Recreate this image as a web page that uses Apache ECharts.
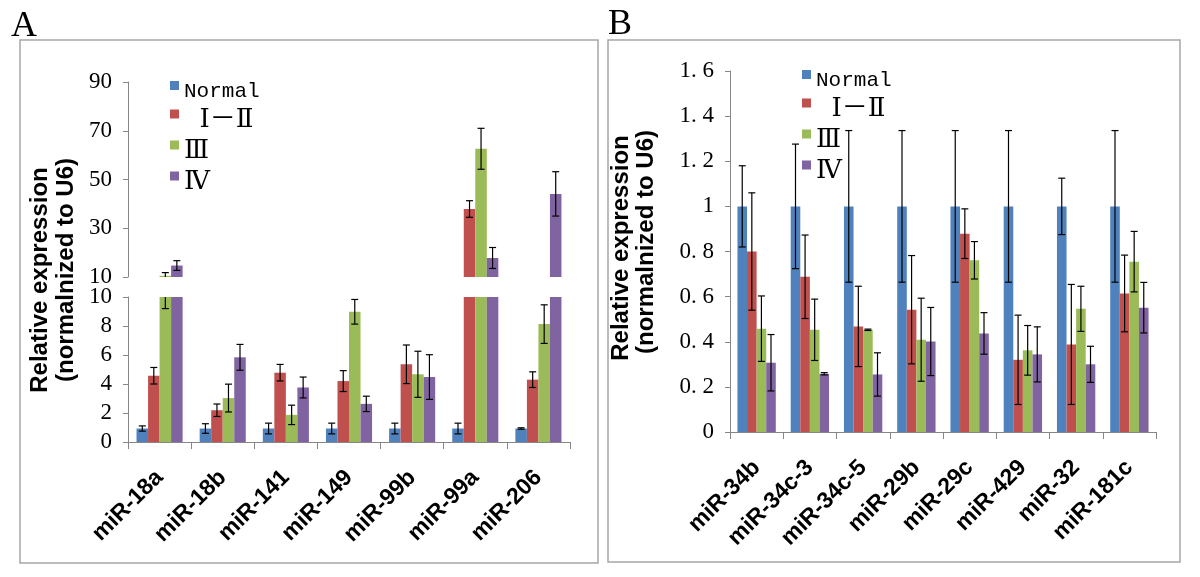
<!DOCTYPE html>
<html><head><meta charset="utf-8">
<script src="https://cdn.jsdelivr.net/npm/echarts@6/dist/echarts.min.js"></script>
<style>html,body{margin:0;padding:0;background:#fff}#c{width:1200px;height:577px}</style>
</head><body><div id="c"></div>
<script>
// ---------- data ----------
const seriesNames = ['Normal', ' Ⅰ－Ⅱ', 'Ⅲ', 'Ⅳ'];
const colors = ['#4F81BD', '#C0504D', '#9BBB59', '#8064A2'];

const catsA = ['miR-18a', 'miR-18b', 'miR-141', 'miR-149', 'miR-99b', 'miR-99a', 'miR-206'];
const normalA     = [0.93, 0.93, 0.93, 0.93, 0.93, 0.93, 0.93];
const normalAErr  = [0.18, 0.33, 0.37, 0.37, 0.37, 0.37, 0.05];
const stage12A    = [4.57, 2.19, 4.78, 4.2, 5.36, 37.9, 4.3];
const stage12AErr = [0.57, 0.43, 0.57, 0.72, 1.33, 3.4, 0.54];
const stage3A     = [10.5, 3.03, 1.87, 8.98, 4.67, 62.6, 8.13];
const stage3AErr  = [1.3, 0.96, 0.67, 0.85, 1.59, 8.4, 1.33];
const stage4A     = [14.7, 5.84, 3.76, 2.63, 4.48, 17.8, 44.1];
const stage4AErr  = [2.0, 0.89, 0.72, 0.53, 1.54, 4.3, 9.1];

const catsB = ['miR-34b', 'miR-34c-3', 'miR-34c-5', 'miR-29b', 'miR-29c', 'miR-429', 'miR-32', 'miR-181c'];
const normalB     = [1, 1, 1, 1, 1, 1, 1, 1];
const normalBErr  = [0.18, 0.276, 0.336, 0.336, 0.336, 0.336, 0.125, 0.336];
const stage12B    = [0.8, 0.688, 0.468, 0.542, 0.879, 0.32, 0.388, 0.614];
const stage12BErr = [0.26, 0.185, 0.178, 0.24, 0.11, 0.198, 0.266, 0.17];
const stage3B     = [0.458, 0.453, 0.453, 0.409, 0.761, 0.362, 0.546, 0.755];
const stage3BErr  = [0.145, 0.136, 0.003, 0.184, 0.083, 0.11, 0.1, 0.134];
const stage4B     = [0.307, 0.258, 0.255, 0.401, 0.437, 0.344, 0.3, 0.551];
const stage4BErr  = [0.125, 0.005, 0.096, 0.151, 0.092, 0.122, 0.08, 0.112];

const breakValue = 10;

// ---------- helpers ----------
const valsA = [normalA, stage12A, stage3A, stage4A];
const errsA = [normalAErr, stage12AErr, stage3AErr, stage4AErr];
const valsB = [normalB, stage12B, stage3B, stage4B];
const errsB = [normalBErr, stage12BErr, stage3BErr, stage4BErr];
const gapA = 0.27, gapB = 0.28;

const axisGrey = '#868686';
const tickFont = {fontFamily: "'Liberation Serif', serif", fontSize: 23, color: '#000'};
const xLabelFont = {fontFamily: "'Liberation Sans', Arial, sans-serif", fontWeight: 'bold', fontSize: 23, color: '#000'};

function errSeries(axisIdx, sIdx, vals, errs, gap, keep) {
  return {
    type: 'custom', name: 'err' + axisIdx + '_' + sIdx,
    xAxisIndex: axisIdx, yAxisIndex: axisIdx, z: 5, silent: true,
    data: vals.map((v, i) => [i, v, errs[i]]).filter(d => keep(d[1])),
    renderItem(params, api) {
      const i = api.value(0), v = api.value(1), e = api.value(2);
      const band = api.size([1, 0])[0];
      const bw = band * (1 - gap) / 4;
      const cx = api.coord([i, v])[0] + (sIdx - 1.5) * bw;
      const cs = params.coordSys;
      const top = cs.y, bot = cs.y + cs.height;
      const yTop = api.coord([i, v + e])[1];
      const yBot = api.coord([i, v - e])[1];
      const y1 = Math.max(yTop, top), y2 = Math.min(yBot, bot);
      if (y1 >= y2) return null;
      const st = {stroke: '#000', lineWidth: 1.2};
      const cap = 3.5;
      const ch = [{type: 'line', shape: {x1: cx, y1: y1, x2: cx, y2: y2}, style: st}];
      if (yTop >= top - 0.5) ch.push({type: 'line', shape: {x1: cx - cap, y1: yTop, x2: cx + cap, y2: yTop}, style: st});
      if (yBot <= bot + 0.5) ch.push({type: 'line', shape: {x1: cx - cap, y1: yBot, x2: cx + cap, y2: yBot}, style: st});
      return {type: 'group', children: ch};
    }
  };
}

function yAxisCfg(grid, min, max, interval, fmt) {
  return {
    type: 'value', gridIndex: grid, min: min, max: max, interval: interval,
    axisLine: {show: true, lineStyle: {color: axisGrey, width: 1}},
    axisTick: {show: true, length: 5, lineStyle: {color: axisGrey}},
    splitLine: {show: false},
    axisLabel: Object.assign({margin: 16, formatter: fmt}, tickFont)
  };
}

function xAxisCfg(grid, cats, visible) {
  return {
    type: 'category', gridIndex: grid, data: cats,
    axisLine: {show: visible, lineStyle: {color: axisGrey, width: 1}},
    axisTick: {show: visible, length: 7, lineStyle: {color: axisGrey}},
    axisLabel: Object.assign({show: visible, rotate: 45, margin: 32, interval: 0}, xLabelFont)
  };
}

const series = [];
// Panel A upper (part above the axis break)
seriesNames.forEach((n, s) => {
  series.push({type: 'bar', name: n, xAxisIndex: 0, yAxisIndex: 0, barGap: '0%', barCategoryGap: (gapA * 100) + '%',
    itemStyle: {color: colors[s]}, clip: true,
    data: valsA[s].map(v => v > breakValue ? v : '-')});
});
// Panel A lower
seriesNames.forEach((n, s) => {
  series.push({type: 'bar', name: n, xAxisIndex: 1, yAxisIndex: 1, barGap: '0%', barCategoryGap: (gapA * 100) + '%',
    itemStyle: {color: colors[s]}, clip: true, data: valsA[s]});
});
// Panel B
seriesNames.forEach((n, s) => {
  series.push({type: 'bar', name: n, xAxisIndex: 2, yAxisIndex: 2, barGap: '0%', barCategoryGap: (gapB * 100) + '%',
    itemStyle: {color: colors[s]}, clip: true, data: valsB[s]});
});
seriesNames.forEach((n, s) => {
  series.push(errSeries(0, s, valsA[s], errsA[s], gapA, v => v > breakValue));
  series.push(errSeries(1, s, valsA[s], errsA[s], gapA, v => true));
  series.push(errSeries(2, s, valsB[s], errsB[s], gapB, v => true));
});

const fmtB = v => String(Math.round(v * 10) / 10).replace('.', '. ');
const legendFam = "'Liberation Mono', 'DejaVu Serif', 'Noto Sans CJK SC', monospace";
// square marker sitting at the top of a 9x21 box (tiny dot keeps the box height)
const legendIcon = 'path://M0,0L9,0L9,9L0,9Z M4.5,20.95L4.52,20.95L4.52,21Z';
const legendCfg = (left, top) => ({
  data: seriesNames.map(n => ({name: n, icon: legendIcon})),
  orient: 'vertical', left: left, top: top, padding: 0, itemGap: 5,
  itemWidth: 9, itemHeight: 21, selectedMode: false,
  formatter: n => n === 'Normal' ? '{n|' + n + '}' : '{r|' + n + '}',
  textStyle: {
    color: '#000',
    rich: {
      n: {fontFamily: legendFam, fontSize: 21, lineHeight: 21, color: '#000'},
      r: {fontFamily: legendFam, fontSize: 26, lineHeight: 21, color: '#000'}
    }
  }
});
const titleStyle = {fontFamily: "'Liberation Sans', Arial, sans-serif", fontWeight: 'bold', fontSize: 24, fill: '#000', textAlign: 'center', textVerticalAlign: 'middle'};

function rotText(text, x, y) {
  return {type: 'text', x: x, y: y, rotation: Math.PI / 2, style: Object.assign({text: text}, titleStyle)};
}

const option = {
  animation: false,
  backgroundColor: '#fff',
  grid: [
    {left: 128, top: 82, width: 442, height: 195},
    {left: 128, top: 297, width: 442, height: 145},
    {left: 730, top: 71, width: 426, height: 361}
  ],
  xAxis: [xAxisCfg(0, catsA, false), xAxisCfg(1, catsA, true), xAxisCfg(2, catsB, true)],
  yAxis: [yAxisCfg(0, 10, 90, 20), yAxisCfg(1, 0, 10, 2), yAxisCfg(2, 0, 1.6, 0.2, fmtB)],
  legend: [legendCfg(170, 81), legendCfg(802, 70)],
  graphic: [
    {type: 'rect', shape: {x: 20, y: 40, width: 578, height: 523}, style: {fill: 'none', stroke: '#a6a6a6', lineWidth: 1.5}, z: -1},
    {type: 'rect', shape: {x: 608, y: 40, width: 572, height: 522}, style: {fill: 'none', stroke: '#a6a6a6', lineWidth: 1.5}, z: -1},
    {type: 'text', x: 11, y: 9, style: {text: 'A', fontFamily: "'Liberation Serif', serif", fontSize: 36, fill: '#000'}},
    {type: 'text', x: 608, y: 7, style: {text: 'B', fontFamily: "'Liberation Serif', serif", fontSize: 36, fill: '#000'}},
    rotText('Relative expression', 40, 280),
    rotText('(normalnized to U6)', 66, 270),
    rotText('Relative expression', 621, 248),
    rotText('(normalnized to U6)', 646, 242)
  ],
  series: series
};

const chart = echarts.init(document.getElementById('c'), null, {renderer: 'canvas'});
chart.setOption(option);
</script>
</body></html>
